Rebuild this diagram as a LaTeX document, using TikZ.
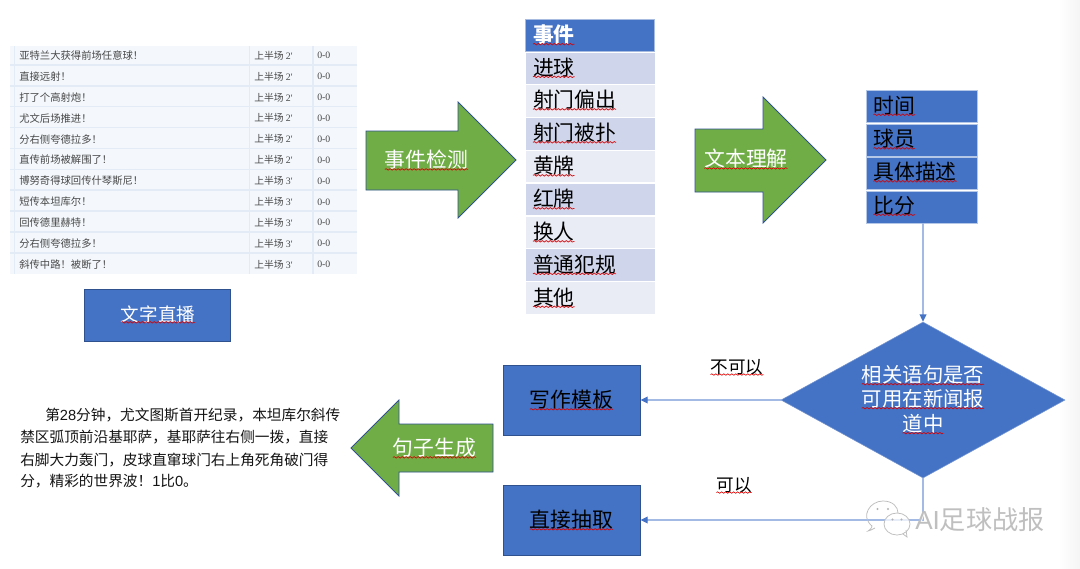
\documentclass[tikz,border=0pt]{standalone}
\usepackage{fontspec}
\setmainfont{Noto Sans CJK SC}
\newfontfamily\latinser{Liberation Serif}
\newfontfamily\latinsans{Liberation Sans}
\usetikzlibrary{arrows.meta,shapes.geometric,decorations.pathmorphing,shadings}
\definecolor{blueF}{HTML}{4472C4}
\definecolor{blueB}{HTML}{2F528F}
\definecolor{greenF}{HTML}{70AD47}
\definecolor{rowA}{HTML}{CFD5EA}
\definecolor{rowB}{HTML}{E9EBF5}
\definecolor{tabBg}{HTML}{F4F8FC}
\definecolor{tabLn}{HTML}{E3ECF6}
\definecolor{connL}{HTML}{A3BBE4}
\tikzset{
  x=0.75pt,y=-0.75pt,
  wavy/.style={draw=red!85!black,line width=0.5pt,decorate,decoration={snake,segment length=3pt,amplitude=0.55pt}},
  lab/.style={inner sep=0pt,outer sep=0pt,font=\fontsize{15.6}{18}\selectfont},
  tabtxt/.style={inner sep=0pt,anchor=west,text=black!72,font=\fontsize{7.75}{9}\selectfont},
  tabtime/.style={inner sep=0pt,anchor=west,text=black!72,font=\fontsize{7.35}{9}\selectfont},
  tabscore/.style={inner sep=0pt,anchor=west,text=black!72,font=\latinser\fontsize{7.35}{9}\selectfont},
  para/.style={inner sep=0pt,anchor=west,text=black!92,font=\fontsize{11}{13}\selectfont},
  flowbox/.style={draw=blueB,line width=0.6pt,fill=blueF,inner sep=0pt},
  headcell/.style={draw=rowB!60!blueF,line width=0.4pt,fill=blueF,inner sep=0pt},
  bluecell/.style={fill=blueF,draw=white!60!blueF,line width=0.4pt,inner sep=0pt},
  oddcell/.style={fill=rowA,inner sep=0pt},
  evencell/.style={fill=rowB,inner sep=0pt},
  fatarrow/.style={fill=greenF,draw=blueB,line width=0.6pt,line join=miter},
  conn/.style={draw=connL,line width=1pt,-{Triangle[length=5.5pt,width=5pt,fill=blueF,color=blueF]}},
}
% box from corner coordinates in picture units
\newcommand\bxx[6]{\node[#6,minimum width=\fpeval{(#4-#2)*0.75}pt,minimum height=\fpeval{(#5-#3)*0.75}pt] (#1) at (\fpeval{(#2+#4)/2},\fpeval{(#3+#5)/2}) {};}
% text with a red spell-check underline
\newcommand\wlab[5]{\node[lab,#4] (#1) at (#2,#3) {#5}; \draw[wavy] ([yshift=0.2pt]#1.south west) -- ([yshift=0.2pt]#1.south east);}
\newcommand\tabrow[4]{%
  \node[tabtxt] (tt#1) at (19,#2) {#3};
  \node[tabtime] (tm#1) at (254,#2) {上半场 {\latinser #4}};
  \node[tabscore] (ts#1) at (317,#2) {0-0};
}
\begin{document}
\begin{tikzpicture}
\useasboundingbox (0,0) rectangle (1080,568);
\fill[white] (0,0) rectangle (1080,568);
\shade[left color=white,right color=black!4] (1058,0) rectangle (1080,568);

% source table
\fill[tabBg] (10,46) rectangle (357,274);
\foreach \yy in {64.8,85.7,106.6,127.5,148.4,169.3,190.2,211.1,232,252.9}
  \draw[tabLn,line width=1.2pt] (10,\yy) -- (357,\yy);
\foreach \xx in {14.5,249.5,313}
  \draw[tabLn,line width=1.2pt] (\xx,46) -- (\xx,274);
\tabrow{1}{55.5}{亚特兰大获得前场任意球！}{2'}
\tabrow{2}{76.4}{直接远射！}{2'}
\tabrow{3}{97.3}{打了个高射炮！}{2'}
\tabrow{4}{118.2}{尤文后场推进！}{2'}
\tabrow{5}{139.1}{分右侧夸德拉多！}{2'}
\tabrow{6}{160}{直传前场被解围了！}{2'}
\tabrow{7}{180.9}{博努奇得球回传什琴斯尼！}{3'}
\tabrow{8}{201.8}{短传本坦库尔！}{3'}
\tabrow{9}{222.7}{回传德里赫特！}{3'}
\tabrow{10}{243.6}{分右侧夸德拉多！}{3'}
\tabrow{11}{264.5}{斜传中路！被断了！}{3'}

\bxx{live}{84}{289}{230}{341}{flowbox}
\wlab{livet}{158}{314}{text=white,font=\fontsize{13.9}{16}\selectfont}{文字直播}

% green arrows
\draw[fatarrow] (366,131) -- (458,131) -- (458,102) -- (516,160) -- (458,218) -- (458,190) -- (366,190) -- cycle;
\wlab{detect}{426.5}{160}{text=white}{事件检测}
\draw[fatarrow] (695,129) -- (763,129) -- (763,97) -- (826,160) -- (763,223) -- (763,192) -- (695,192) -- cycle;
\wlab{understand}{746}{159}{text=white}{文本理解}
\draw[fatarrow] (493,424) -- (399,424) -- (399,400) -- (351,448) -- (399,496) -- (399,472) -- (493,472) -- cycle;
\wlab{generate}{434.5}{448}{text=white}{句子生成}

% event table
\bxx{evh}{525.5}{19}{654.5}{51}{headcell}
\bxx{ev1}{525.5}{53}{654.5}{84}{oddcell}
\bxx{ev2}{525.5}{85}{654.5}{117}{evencell}
\bxx{ev3}{525.5}{118}{654.5}{150}{oddcell}
\bxx{ev4}{525.5}{151}{654.5}{182}{evencell}
\bxx{ev5}{525.5}{184}{654.5}{215}{oddcell}
\bxx{ev6}{525.5}{217}{654.5}{248}{evencell}
\bxx{ev7}{525.5}{249}{654.5}{281}{oddcell}
\bxx{ev8}{525.5}{282}{654.5}{314}{evencell}
\wlab{evht}{533}{34.5}{anchor=west,text=white,font=\bfseries\fontsize{15.6}{18}\selectfont}{事件}
\wlab{ev1t}{533}{67.5}{anchor=west}{进球}
\wlab{ev2t}{533}{100}{anchor=west}{射门偏出}
\wlab{ev3t}{533}{133}{anchor=west}{射门被扑}
\wlab{ev4t}{533}{166}{anchor=west}{黄牌}
\wlab{ev5t}{533}{199}{anchor=west}{红牌}
\wlab{ev6t}{533}{232}{anchor=west}{换人}
\wlab{ev7t}{533}{264.5}{anchor=west}{普通犯规}
\wlab{ev8t}{533}{297.5}{anchor=west}{其他}

% attribute table
\bxx{at1}{866.5}{90}{977}{122}{bluecell}
\bxx{at2}{866.5}{124}{977}{156}{bluecell}
\bxx{at3}{866.5}{157}{977}{189}{bluecell}
\bxx{at4}{866.5}{191}{977}{223}{bluecell}
\wlab{at1t}{873.5}{105.5}{anchor=west}{时间}
\wlab{at2t}{873.5}{139}{anchor=west}{球员}
\wlab{at3t}{873.5}{172}{anchor=west}{具体描述}
\wlab{at4t}{873.5}{205.5}{anchor=west}{比分}

% decision
\node[diamond,fill=blueF,draw=white!25!blueF,line width=0.4pt,inner sep=0pt,shape aspect=1.82,minimum width=213pt,minimum height=117pt] (dec) at (923,400) {};
\wlab{dec1}{923}{375}{text=white,font=\fontsize{15.3}{18}\selectfont}{相关语句是否}
\wlab{dec2}{923}{399}{text=white,font=\fontsize{15.3}{18}\selectfont}{可用在新闻报}
\wlab{dec3}{923}{424}{text=white,font=\fontsize{15.3}{18}\selectfont}{道中}

% result boxes
\bxx{tpl}{503}{365}{640}{435}{flowbox}
\bxx{ext}{503}{485}{640}{555}{flowbox}
\wlab{tplt}{571.5}{400}{text=black}{写作模板}
\wlab{extt}{571.5}{520}{text=black}{直接抽取}

% connectors
\draw[conn] (at4.south -| dec.north) -- (dec.north);
\draw[conn] (dec.west) -- (tpl.east);
\draw[conn] (dec.south) |- (ext.east);
\wlab{no}{737}{367}{font=\fontsize{13.2}{16}\selectfont}{不可以}
\wlab{yes}{734}{485}{font=\fontsize{13.2}{16}\selectfont}{可以}

% generated paragraph
\node[para] (p1) at (45,415) {第{\latinsans 28}分钟，尤文图斯首开纪录，本坦库尔斜传};
\node[para] (p2) at (20,437) {禁区弧顶前沿基耶萨，基耶萨往右侧一拨，直接};
\node[para] (p3) at (20,460) {右脚大力轰门，皮球直窜球门右上角死角破门得};
\node[para] (p4) at (20,481) {分，精彩的世界波！{\latinsans 1}比{\latinsans 0}。};

% watermark
\begin{scope}[draw=black!26,line width=0.55pt]
  \draw (875,528) .. controls (871,530) and (869,531) .. (868,531) .. controls (871,529) and (872,527) .. (872,526);
  \draw (872,526) .. controls (860,516) and (870,501) .. (883,501) .. controls (893,501) and (898,507) .. (898,513);
  \fill[white,opacity=0.75] (897,524) ellipse (13 and 11);
  \draw (897,524) ellipse (13 and 11);
  \draw (903,534) -- (907,537) -- (906,530);
  \fill[black!30] (877.5,509) circle (1.1) (888,509) circle (1.1) (892.5,519.5) circle (1.1) (901.5,519.5) circle (1.1);
\end{scope}
\node[inner sep=0pt,anchor=west,text=white,font=\fontsize{19.6}{22}\selectfont] (wms) at (915.6,520.6) {{\latinsans AI}足球战报};
\node[inner sep=0pt,anchor=west,text=black!25,font=\fontsize{19.6}{22}\selectfont] (wm) at (915,520) {{\latinsans AI}足球战报};
\end{tikzpicture}
\end{document}
